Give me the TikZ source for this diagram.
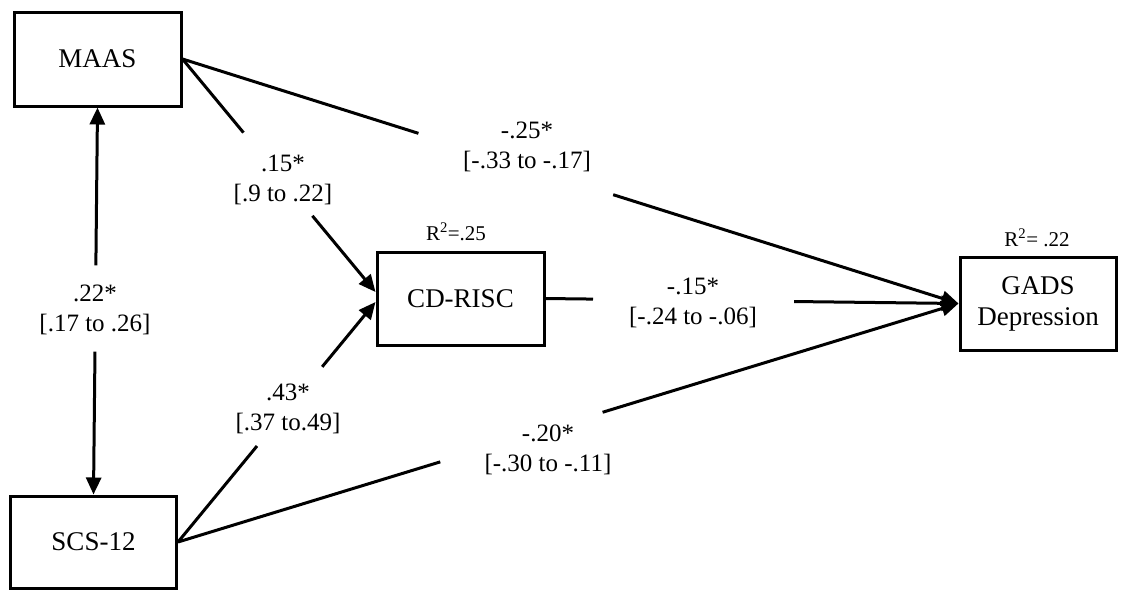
\documentclass[tikz,border=0pt]{standalone}
\usepackage{fontspec}
\setmainfont{Liberation Serif}
\usetikzlibrary{arrows.meta}
\begin{document}
\begin{tikzpicture}[x=1pt,y=-1pt,
  box/.style={draw, line width=3pt, inner sep=0pt, align=center, font=\fontsize{27}{31}\selectfont},
  conn/.style={line width=3pt},
  tip/.style={-{Triangle[length=17pt,width=15pt]}},
  tipback/.style={{Triangle[length=17pt,width=15pt]}-},
  lab/.style={align=center, font=\fontsize{25}{30}\selectfont, inner sep=0pt},
  rsq/.style={font=\fontsize{21}{25}\selectfont, inner sep=0pt}
]
\useasboundingbox (0,0) rectangle (1123,590);

\node[box, minimum width=167pt, minimum height=94pt] (maas) at (97.5,59) {MAAS};
\node[box, minimum width=166pt, minimum height=92pt] (scs) at (93.5,542) {SCS-12};
\node[box, minimum width=167pt, minimum height=93pt] (cd) at (460.5,298.5) {CD-RISC};
\node[box, minimum width=156pt, minimum height=93pt] (gads) at (1038,303.5) {GADS\\Depression};

\node[rsq] (r1) at (456,232) {R\textsuperscript{2}=.25};
\node[rsq] (r2) at (1037,238) {R\textsuperscript{2}= .22};

% MAAS <-> SCS-12
\path (maas.south) -- (scs.north) coordinate[pos=0.408] (v1) coordinate[pos=0.631] (v2);
\draw[conn, tipback] (maas.south) -- (v1);
\draw[conn, tip] (v2) -- (scs.north);
\node[lab] (l22) at (95,310) {.22*\\{}[.17 to .26]};

% MAAS -> CD-RISC
\path (maas.east) -- ([yshift=6.5pt]cd.west) coordinate[pos=0.316] (a1) coordinate[pos=0.673] (a2);
\draw[conn] (maas.east) -- (a1);
\draw[conn, tip] (a2) -- ([yshift=6.5pt]cd.west);
\node[lab] (l15) at (283,180) {.15*\\{}[.9 to .22]};

% SCS-12 -> CD-RISC
\path (scs.east) -- ([yshift=-3.5pt]cd.west) coordinate[pos=0.40] (b1) coordinate[pos=0.73] (b2);
\draw[conn] (scs.east) -- (b1);
\draw[conn, tip] (b2) -- ([yshift=-3.5pt]cd.west);
\node[lab] (l43) at (288,409) {.43*\\{}[.37 to.49]};

% MAAS -> GADS
\path (maas.east) -- (gads.west) coordinate[pos=0.304] (c1) coordinate[pos=0.555] (c2);
\draw[conn] (maas.east) -- (c1);
\draw[conn, tip] (c2) -- (gads.west);
\node[lab] (l25) at (527,147) {-.25*\\{}[-.33 to -.17]};

% CD-RISC -> GADS
\path (cd.east) -- (gads.west) coordinate[pos=0.115] (d1) coordinate[pos=0.602] (d2);
\draw[conn] (cd.east) -- (d1);
\draw[conn, tip] (d2) -- (gads.west);
\node[lab] (l15b) at (693,303) {-.15*\\{}[-.24 to -.06]};

% SCS-12 -> GADS
\path (scs.east) -- (gads.west) coordinate[pos=0.336] (e1) coordinate[pos=0.544] (e2);
\draw[conn] (scs.east) -- (e1);
\draw[conn, tip] (e2) -- (gads.west);
\node[lab] (l20) at (548,450) {-.20*\\{}[-.30 to -.11]};

\end{tikzpicture}
\end{document}
